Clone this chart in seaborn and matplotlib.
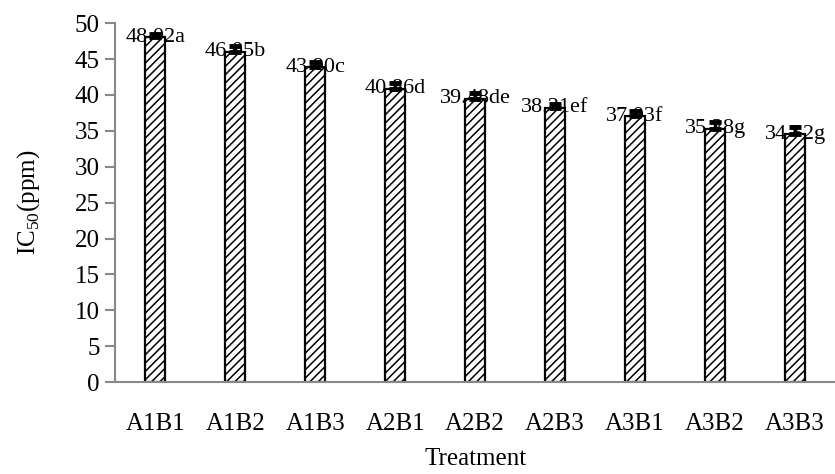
import matplotlib
matplotlib.use("Agg")
import matplotlib.pyplot as plt
import seaborn as sns
import pandas as pd

# data
treatments = ["A1B1", "A1B2", "A1B3", "A2B1", "A2B2", "A2B3", "A3B1", "A3B2", "A3B3"]
ic50 = [48.02, 46.05, 43.90, 40.86, 39.48, 38.21, 37.03, 35.28, 34.52]
errors = [0.5, 0.75, 0.7, 0.85, 0.85, 0.6, 0.8, 0.9, 1.0]
letters = ["a", "b", "c", "d", "de", "ef", "f", "g", "g"]

sns.set_style("white")
plt.rcParams["font.family"] = ["Liberation Serif", "DejaVu Serif"]
plt.rcParams["hatch.linewidth"] = 1.1
plt.rcParams["mathtext.fontset"] = "custom"
plt.rcParams["mathtext.rm"] = "Liberation Serif"

df = pd.DataFrame({"Treatment": treatments, "IC50": ic50})

fig = plt.figure(figsize=(8.35, 4.74), dpi=100)
ax = fig.add_axes([0.138, 0.194, 0.862, 0.757])

sns.barplot(data=df, x="Treatment", y="IC50", color="white", edgecolor="black",
            linewidth=1.6, width=0.25, hatch="////", saturation=1, ax=ax, zorder=2)

xpos = range(len(treatments))
ax.errorbar(list(xpos), ic50, yerr=[[0] * len(errors), errors], fmt="none",
            ecolor="black", elinewidth=2.5, capsize=4.5, capthick=3.5, zorder=5)

# labels sit behind the bars, as in the original
for x, v, l in zip(xpos, ic50, letters):
    ax.text(x, v, f"{v:.2f}{l}", ha="center", va="center", fontsize=16,
            color="black", zorder=1)

ax.set_ylim(0, 50)
ax.set_yticks(range(0, 51, 5))
ax.set_xlim(-0.5, len(treatments) - 0.5)

for side in ["top", "right"]:
    ax.spines[side].set_visible(False)
for side in ["left", "bottom"]:
    ax.spines[side].set_color("#888888")
    ax.spines[side].set_linewidth(1.5)

ax.tick_params(axis="y", left=True, length=7, width=1.5, color="#888888",
               labelsize=18, labelcolor="black", pad=4)
ax.tick_params(axis="x", bottom=False, labelsize=18, labelcolor="black", pad=19)

ax.set_xlabel("Treatment", fontsize=18, labelpad=9, color="black")
ax.set_ylabel(r"IC$_{50}$(ppm)", fontsize=18, labelpad=24, color="black")

plt.savefig("out.png", dpi=100)
